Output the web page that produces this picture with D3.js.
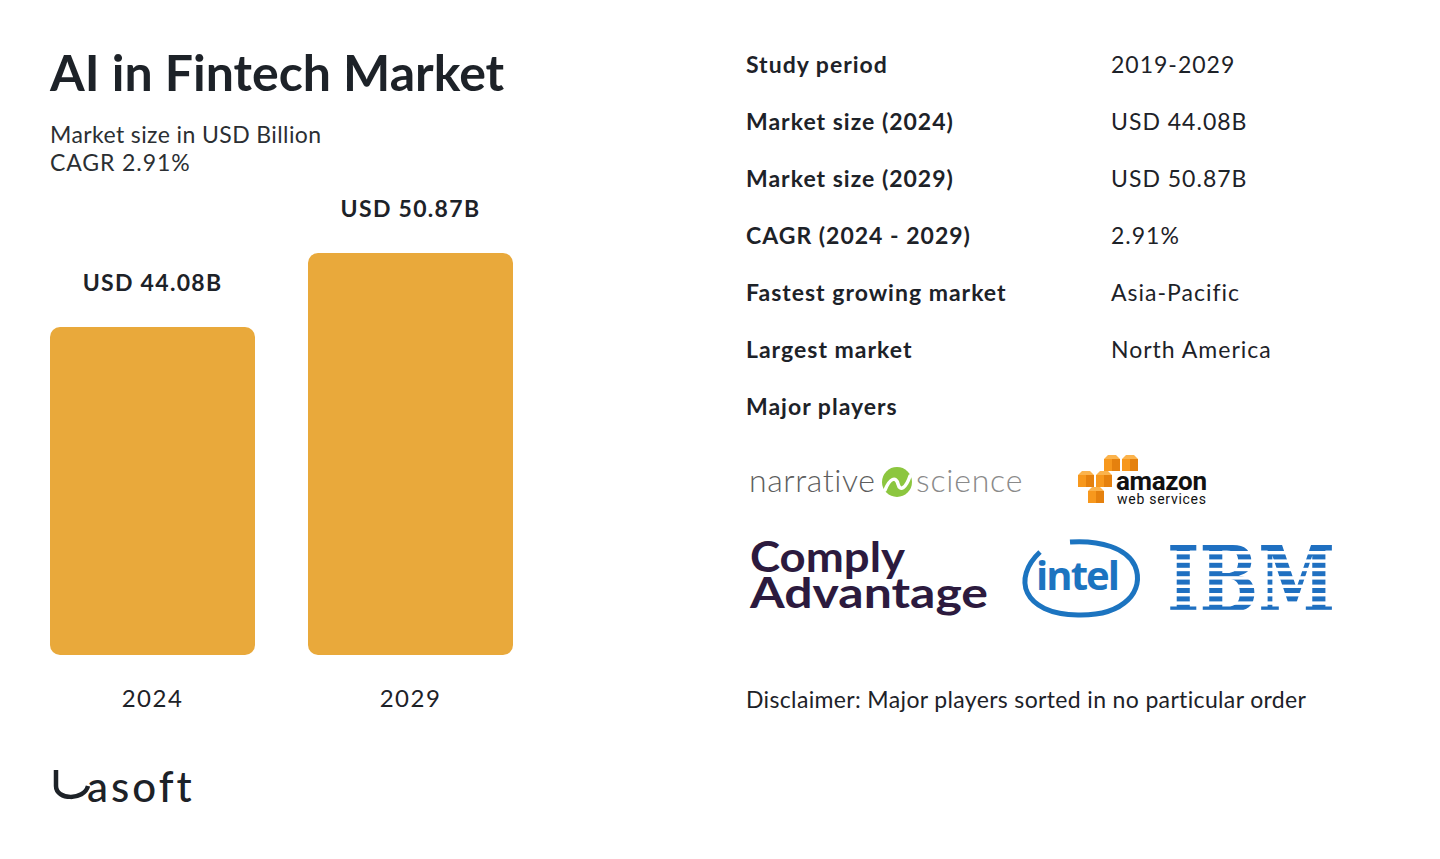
<!DOCTYPE html>
<html>
<head>
<meta charset="utf-8">
<script src="https://cdn.jsdelivr.net/npm/d3@7"></script>
<style>
  body { margin: 0; background: #fff; }
  svg { display: block; font-family: Lato, "Noto Sans", sans-serif; }
</style>
</head>
<body>
<div class="chart"></div>
<script>
// chart data
var years = ["2024", "2029"];
var marketValues = [44.08, 50.87];
var valueLabels = ["USD 44.08B", "USD 50.87B"];

// key facts table
var factLabels = ["Study period", "Market size (2024)", "Market size (2029)", "CAGR (2024 - 2029)",
  "Fastest growing market", "Largest market", "Major players"];
var factValues = ["2019-2029", "USD 44.08B", "USD 50.87B", "2.91%", "Asia-Pacific", "North America", ""];

var svgWidth = 1440;
var svgHeight = 859;
var ink = "#1d2228";

var svg = d3.select(".chart")
  .append("svg")
  .attr("width", svgWidth)
  .attr("height", svgHeight);

// title + subtitle
svg.append("text")
  .attr("x", 50).attr("y", 91)
  .style("font-size", "50px").style("font-weight", 700)
  .attr("fill", ink)
  .text("AI in Fintech Market");

svg.append("text")
  .attr("x", 50).attr("y", 143)
  .style("font-size", "23px").style("letter-spacing", "0.4px")
  .attr("fill", "#2b2f33")
  .text("Market size in USD Billion");

svg.append("text")
  .attr("x", 50).attr("y", 171)
  .style("font-size", "23px").style("letter-spacing", "0.9px")
  .attr("fill", "#2b2f33")
  .text("CAGR 2.91%");

// scales
var xScale = d3.scaleBand()
  .domain(years)
  .range([50, 513])
  .paddingInner(0.2054);

var yScale = d3.scaleLinear()
  .domain([14, 50.87])
  .range([655, 253]);

var bars = svg.append("g");

bars.selectAll("rect")
  .data(years)
  .enter()
  .append("rect")
  .attr("x", d => xScale(d))
  .attr("y", (d, i) => yScale(marketValues[i]))
  .attr("width", xScale.bandwidth())
  .attr("height", (d, i) => yScale(14) - yScale(marketValues[i]))
  .attr("rx", 10)
  .attr("fill", "#e9a93b");

bars.selectAll(".val")
  .data(years)
  .enter()
  .append("text")
  .attr("class", "val")
  .attr("x", d => xScale(d) + xScale.bandwidth() / 2)
  .attr("y", (d, i) => yScale(marketValues[i]) - 36)
  .attr("text-anchor", "middle")
  .style("font-size", "23px").style("font-weight", 700)
  .style("letter-spacing", "1.3px")
  .attr("fill", ink)
  .text((d, i) => valueLabels[i]);

// x axis labels, no line
var bottomAxis = d3.axisBottom(xScale).tickSize(0).tickPadding(0);
var axisG = svg.append("g")
  .attr("transform", "translate(0, 690)")
  .call(bottomAxis);
axisG.select(".domain").remove();
axisG.selectAll("text")
  .style("font-size", "24px")
  .style("letter-spacing", "1.5px")
  .style("font-family", "Lato, sans-serif")
  .attr("fill", ink);

// facts table
var table = svg.append("g");
factLabels.forEach(function(label, i) {
  var y = 73 + i * 57;
  table.append("text")
    .attr("x", 746).attr("y", y)
    .style("font-size", "23px").style("font-weight", 700)
    .style("letter-spacing", "1px")
    .attr("fill", ink)
    .text(label);
  table.append("text")
    .attr("x", 1111).attr("y", y)
    .style("font-size", "23px")
    .style("letter-spacing", "1px")
    .attr("fill", ink)
    .text(factValues[i]);
});

// --- player logos (drawn roughly) ---
var logos = svg.append("g");

// narrative science
logos.append("text")
  .attr("x", 749).attr("y", 492)
  .style("font-size", "32px").style("font-weight", 300)
  .style("letter-spacing", "0.6px")
  .attr("fill", "#5d5d5d")
  .text("narrative");
logos.append("circle")
  .attr("cx", 897).attr("cy", 482).attr("r", 15)
  .attr("fill", "#8cc63f");
logos.append("path")
  .attr("d", "M885,490 C890,478 896,476 898,484 C900,492 906,488 910,476")
  .attr("fill", "none").attr("stroke", "#fff").attr("stroke-width", 3.5)
  .attr("stroke-linecap", "round");
logos.append("text")
  .attr("x", 916).attr("y", 492)
  .style("font-size", "32px").style("font-weight", 300)
  .style("letter-spacing", "0.8px")
  .attr("fill", "#8a8a8a")
  .text("science");

// amazon web services
var cubes = [[1104, 455], [1122, 455], [1078, 471], [1096, 471], [1088, 487]];
cubes.forEach(function(c) {
  logos.append("rect")
    .attr("x", c[0]).attr("y", c[1] + 4)
    .attr("width", 8).attr("height", 12)
    .attr("fill", "#f7981d");
  logos.append("rect")
    .attr("x", c[0] + 8).attr("y", c[1] + 4)
    .attr("width", 8).attr("height", 12)
    .attr("fill", "#e5810e");
  logos.append("path")
    .attr("d", `M${c[0]},${c[1] + 4} L${c[0] + 4},${c[1]} L${c[0] + 12},${c[1]} L${c[0] + 16},${c[1] + 4} Z`)
    .attr("fill", "#fbb34c");
});
logos.append("text")
  .attr("x", 1116).attr("y", 490)
  .style("font-size", "26px").style("font-weight", 700)
  .style("font-family", "'Liberation Sans Narrow', 'Roboto', sans-serif")
  .attr("fill", "#111")
  .attr("textLength", 91)
  .text("amazon");
logos.append("text")
  .attr("x", 1117).attr("y", 504)
  .style("font-size", "14px")
  .style("font-family", "'Liberation Sans Narrow', 'Roboto', sans-serif")
  .attr("fill", "#111")
  .attr("textLength", 89)
  .text("web services");

// comply advantage
logos.append("text")
  .attr("x", 750).attr("y", 572)
  .style("font-size", "42px").style("font-weight", 700)
  .attr("fill", "#2c1a3e")
  .attr("textLength", 155)
  .attr("lengthAdjust", "spacingAndGlyphs")
  .text("Comply");
logos.append("text")
  .attr("x", 750).attr("y", 608)
  .style("font-size", "42px").style("font-weight", 700)
  .attr("fill", "#2c1a3e")
  .attr("textLength", 238)
  .attr("lengthAdjust", "spacingAndGlyphs")
  .text("Advantage");

// intel
logos.append("path")
  .attr("d", "M1040,552 C1012,578 1022,614 1078,615 C1125,616 1145,590 1135,566 C1127,548 1100,540 1070,542")
  .attr("fill", "none").attr("stroke", "#1c74c0").attr("stroke-width", 5);
logos.append("text")
  .attr("x", 1036).attr("y", 590)
  .style("font-size", "40px").style("font-weight", 700)
  .style("font-family", "'Open Sans', sans-serif")
  .attr("fill", "#1c74c0")
  .attr("textLength", 84)
  .text("intel");

// ibm with stripes
logos.append("text")
  .attr("x", 1167).attr("y", 612)
  .style("font-size", "92px").style("font-weight", 700)
  .style("font-family", "'DejaVu Serif', serif")
  .attr("fill", "#1f70c1")
  .attr("textLength", 168)
  .attr("lengthAdjust", "spacingAndGlyphs")
  .text("IBM");
d3.range(8).forEach(function(k) {
  logos.append("rect")
    .attr("x", 1160).attr("y", 546 + k * 8.4 + 5)
    .attr("width", 185).attr("height", 3.4)
    .attr("fill", "#fff");
});

// disclaimer
svg.append("text")
  .attr("x", 746).attr("y", 708)
  .style("font-size", "23px").style("letter-spacing", "0.35px")
  .attr("fill", ink)
  .text("Disclaimer: Major players sorted in no particular order");

// brand mark
svg.append("path")
  .attr("d", "M56,770 L56,786 C56,800 84,801 88,786")
  .attr("fill", "none").attr("stroke", ink).attr("stroke-width", 4.5);
svg.append("text")
  .attr("x", 87).attr("y", 802)
  .style("font-size", "42px").style("font-weight", 500)
  .style("letter-spacing", "3px")
  .attr("fill", ink)
  .text("asoft");
</script>
</body>
</html>
